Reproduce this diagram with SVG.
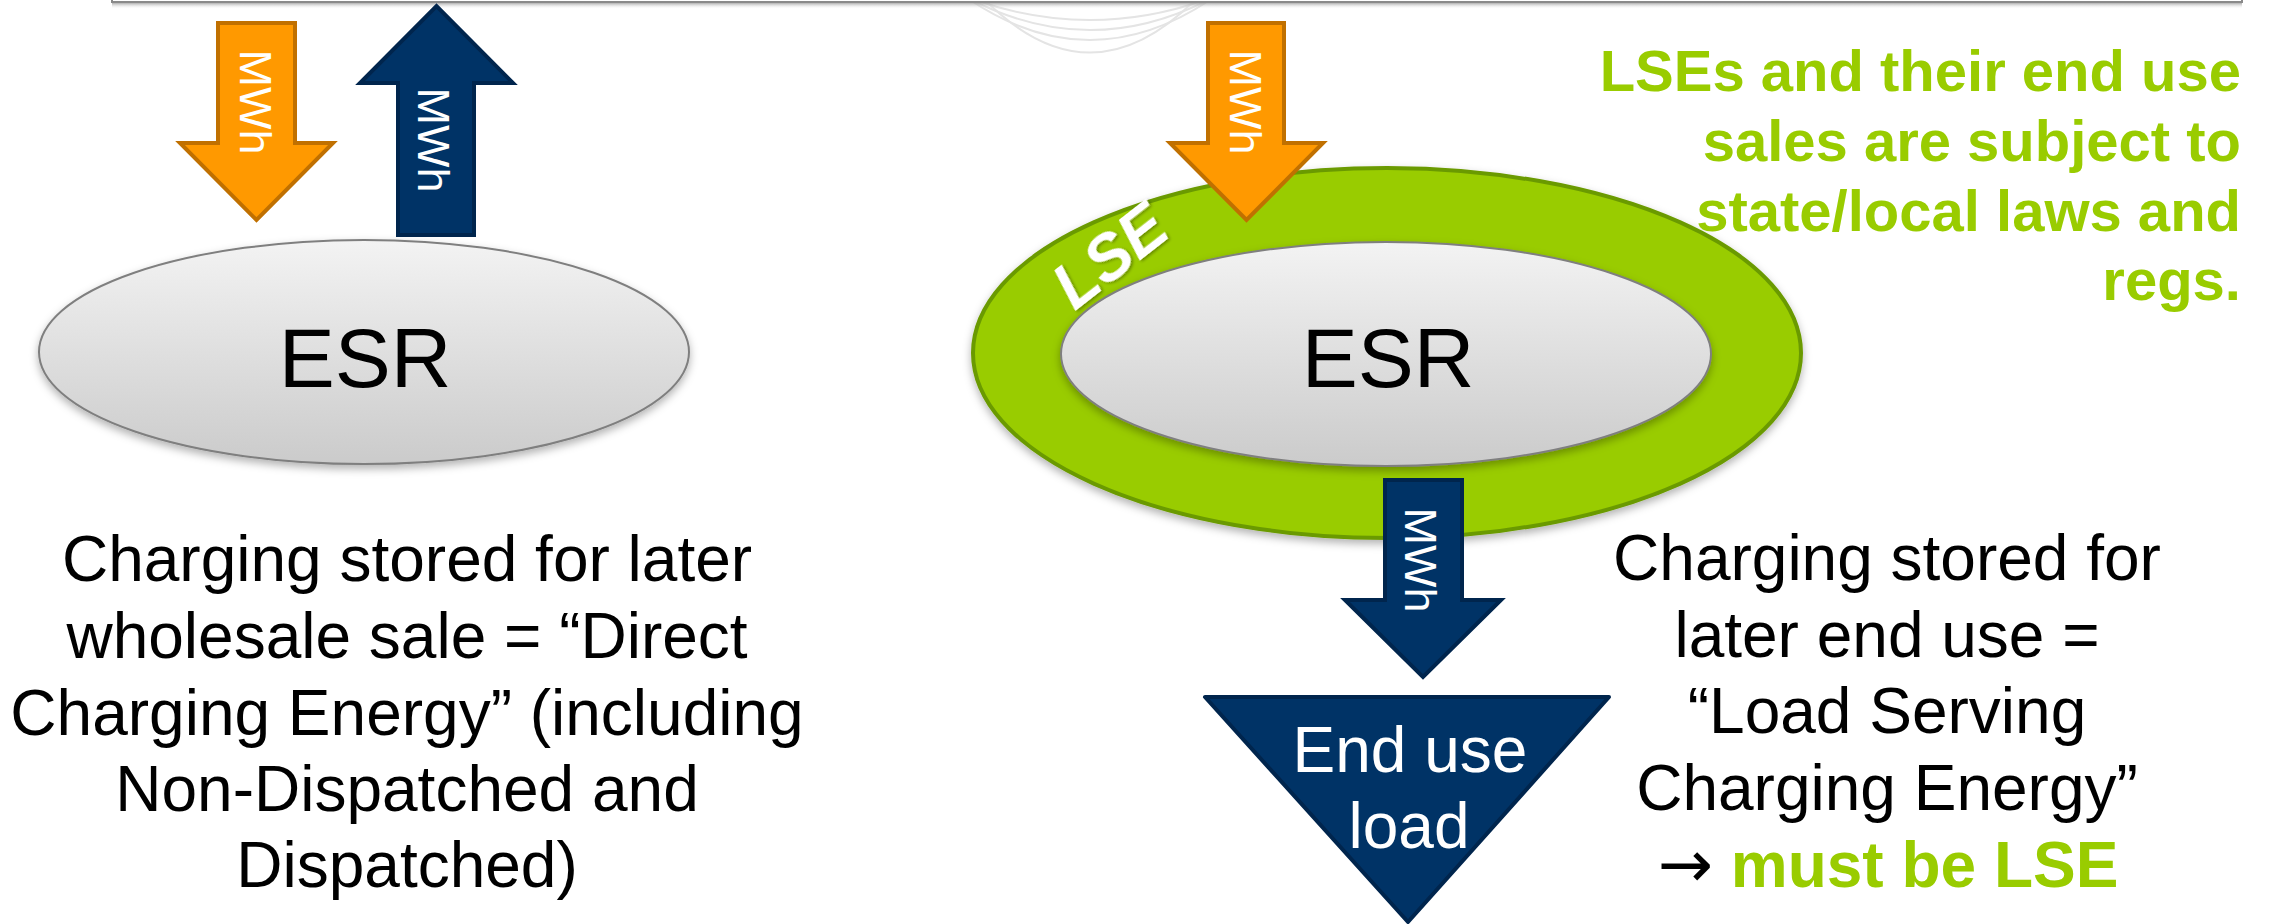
<svg xmlns="http://www.w3.org/2000/svg" width="2270" height="924" viewBox="0 0 2270 924">
<defs>
<linearGradient id="esrGrad" x1="0" y1="0" x2="0" y2="1">
<stop offset="0" stop-color="#f3f3f3"/>
<stop offset="1" stop-color="#cbcbcb"/>
</linearGradient>
<linearGradient id="barShadow" x1="0" y1="0" x2="0" y2="1">
<stop offset="0" stop-color="#7a7a7a" stop-opacity="0.8"/>
<stop offset="1" stop-color="#ffffff" stop-opacity="0"/>
</linearGradient>
<filter id="shadow" x="-10%" y="-10%" width="120%" height="130%">
<feDropShadow dx="0" dy="4" stdDeviation="4" flood-color="#000" flood-opacity="0.3"/>
</filter>
<filter id="txtShadow" x="-20%" y="-20%" width="140%" height="140%">
<feDropShadow dx="1" dy="2" stdDeviation="1.5" flood-color="#000" flood-opacity="0.35"/>
</filter>
</defs>
<style>
.esr{fill:url(#esrGrad);stroke:#7f7f7f;stroke-width:2}
.esrTxt{font-family:"Liberation Sans",Arial,sans-serif;font-size:84px;fill:#000;text-anchor:middle}
.body{font-family:"Liberation Sans",Arial,sans-serif;font-size:64px;fill:#000;text-anchor:middle}
.white{fill:#ffffff}
.green{font-family:"Liberation Sans",Arial,sans-serif;font-size:58px;font-weight:bold;fill:#99CC00;text-anchor:end}
.orange{fill:#FF9900;stroke:#C07000;stroke-width:4;stroke-linejoin:miter}
.navy{fill:#003366;stroke:#00254d;stroke-width:4;stroke-linejoin:miter}
.mwh{font-family:"Liberation Sans",Arial,sans-serif;font-size:45px;fill:#fff;text-anchor:middle}
.arc{fill:none;stroke:#e4e4e4;stroke-width:2}
</style>
<rect width="2270" height="924" fill="#ffffff"/>
<g id="background">
<path class="arc" d="M975 0 Q1090 40 1205 0"/>
<path class="arc" d="M972 0 Q1090 60 1208 0"/>
<path class="arc" d="M970 0 Q1090 80 1210 0"/>
<path class="arc" d="M985 0 Q1090 105 1195 0"/>
<rect x="112" y="2" width="2130" height="7" fill="url(#barShadow)"/>
<rect x="112" y="-40" width="2130" height="42" fill="#ffffff" stroke="#8a8a8a" stroke-width="2"/>
</g>
<g id="esr-left">
<ellipse class="esr" cx="364" cy="352" rx="325" ry="112" filter="url(#shadow)"/>
<text class="esrTxt" x="365" y="387">ESR</text>
</g>
<g id="lse-ring">
<ellipse cx="1387" cy="353" rx="414" ry="185" fill="#99CC00" stroke="#6b9a00" stroke-width="4" filter="url(#shadow)"/>
<text transform="translate(1110,256) rotate(-38)" font-family="Liberation Sans,Arial,sans-serif" font-size="64" font-weight="bold" font-style="italic" fill="#ffffff" text-anchor="middle" y="22" filter="url(#txtShadow)">LSE</text>
</g>
<g id="esr-right">
<ellipse class="esr" cx="1386" cy="354" rx="325" ry="112" filter="url(#shadow)"/>
<text class="esrTxt" x="1388" y="387">ESR</text>
</g>
<g id="end-use-load">
<path d="M1205 697 H1609 L1408 922 Z" fill="#003366" stroke="#00254d" stroke-width="4" stroke-linejoin="round"/>
<text class="body white" x="1410" y="772" font-size="63">End use</text>
<text class="body white" x="1409" y="848" font-size="63">load</text>
</g>
<g id="connectors">
<g id="arrow-left-in">
<path class="orange" d="M218 23 H295 V143 H333 L256.5 220 L180 143 H218 Z"/>
<text class="mwh" transform="translate(256,102) rotate(90)" y="16">MWh</text>
</g>
<g id="arrow-left-out">
<path class="navy" d="M398 235 V83 H360 L436.5 6 L513 83 H474 V235 Z"/>
<text class="mwh" transform="translate(434,140) rotate(90)" y="16">MWh</text>
</g>
<g id="arrow-right-in">
<path class="orange" d="M1208 23 H1284 V143 H1323 L1246.5 220 L1170 143 H1208 Z"/>
<text class="mwh" transform="translate(1246,102) rotate(90)" y="16">MWh</text>
</g>
<g id="arrow-right-out">
<path class="navy" d="M1385 480 H1462 V600 H1501 L1423 677 L1345 600 H1385 Z"/>
<text class="mwh" transform="translate(1421,560) rotate(90)" y="16">MWh</text>
</g>
</g>
<g id="text-left">
<text class="body" x="407" y="581">Charging stored for later</text>
<text class="body" x="407" y="658">wholesale sale = “Direct</text>
<text class="body" x="407" y="735">Charging Energy” (including</text>
<text class="body" x="407" y="811">Non-Dispatched and</text>
<text class="body" x="407" y="887">Dispatched)</text>
</g>
<g id="text-right">
<text class="body" x="1887" y="580">Charging stored for</text>
<text class="body" x="1887" y="657">later end use =</text>
<text class="body" x="1887" y="733">“Load Serving</text>
<text class="body" x="1887" y="810">Charging Energy”</text>
<text class="body" x="1888" y="887"><tspan font-family="DejaVu Sans,sans-serif" font-size="66">→</tspan> <tspan font-weight="bold" fill="#99CC00">must be LSE</tspan></text>
</g>
<g id="text-regs">
<text class="green" x="2241" y="91">LSEs and their end use</text>
<text class="green" x="2241" y="161">sales are subject to</text>
<text class="green" x="2241" y="231">state/local laws and</text>
<text class="green" x="2241" y="300">regs.</text>
</g>
</svg>
